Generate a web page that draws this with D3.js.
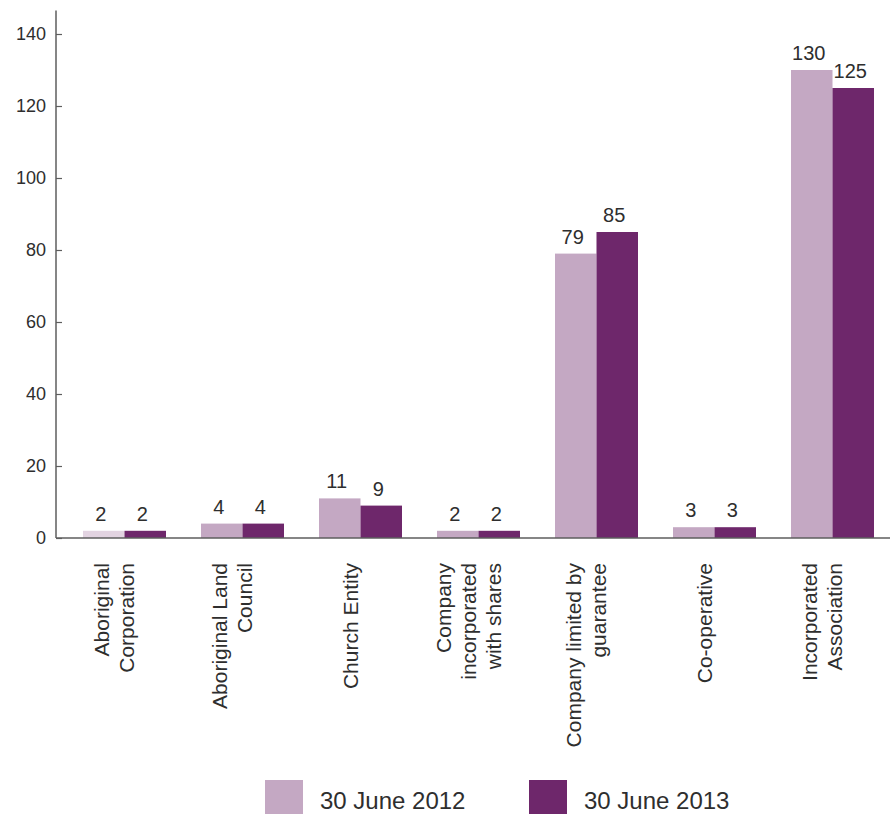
<!DOCTYPE html>
<html>
<head>
<meta charset="utf-8">
<script src="https://cdn.jsdelivr.net/npm/d3@7"></script>
<style>
  html, body { margin: 0; padding: 0; background: #ffffff; }
  svg { display: block; font-family: "Liberation Sans", Arial, Helvetica, sans-serif; }
</style>
</head>
<body>
<svg id="chart" width="890" height="814"></svg>
<script>
// Entity types and the line breaks used for their axis labels
const categories = [
  "Aboriginal Corporation",
  "Aboriginal Land Council",
  "Church Entity",
  "Company incorporated with shares",
  "Company limited by guarantee",
  "Co-operative",
  "Incorporated Association"
];
const categoryLines = [
  ["Aboriginal", "Corporation"],
  ["Aboriginal Land", "Council"],
  ["Church Entity"],
  ["Company", "incorporated", "with shares"],
  ["Company limited by", "guarantee"],
  ["Co-operative"],
  ["Incorporated", "Association"]
];
const seriesNames = ["30 June 2012", "30 June 2013"];
const values2012 = [2, 4, 11, 2, 79, 3, 130];
const values2013 = [2, 4, 9, 2, 85, 3, 125];
const yTicks = [0, 20, 40, 60, 80, 100, 120, 140];

const colors = ["#c4a8c3", "#6e276b"];
const softColor = "#e2d3e1";   // first 2012 bar is shown in a paler tint
const textColor = "#2e2e2e";
const axisColor = "#5e5e5e";

const svg = d3.select("#chart");

const baseY = 538;
const y = d3.scaleLinear().domain([0, 140]).range([baseY, 34]);
const axisX = 56;
const axisTopValue = 146.5;

const x0 = d3.scaleBand()
  .domain(categories)
  .range([65.5, 891.5])
  .paddingInner(0.2966)
  .paddingOuter(0.1483);
const x1 = d3.scaleBand()
  .domain(seriesNames)
  .range([0, x0.bandwidth()])
  .padding(0);

const data = categories.map((c, i) => ({
  category: c,
  lines: categoryLines[i],
  vals: [
    { series: seriesNames[0], value: values2012[i], idx: 0 },
    { series: seriesNames[1], value: values2013[i], idx: 1 }
  ]
}));

// Bars
const groups = svg.append("g").selectAll("g")
  .data(data).join("g")
  .attr("transform", d => `translate(${x0(d.category)},0)`);

groups.selectAll("rect")
  .data((d, ci) => d.vals.map(v => ({ ...v, ci })))
  .join("rect")
  .attr("x", d => x1(d.series))
  .attr("width", x1.bandwidth())
  .attr("y", d => y(d.value))
  .attr("height", d => y(0) - y(d.value))
  .attr("fill", d => (d.ci === 0 && d.idx === 0) ? softColor : colors[d.idx]);

// Value labels
groups.selectAll("text.val")
  .data(d => d.vals)
  .join("text")
  .attr("class", "val")
  .attr("x", d => x1(d.series) + x1.bandwidth() / 2 - 3)
  .attr("y", d => y(d.value) - 10)
  .attr("text-anchor", "middle")
  .attr("font-size", 20)
  .attr("fill", textColor)
  .text(d => d.value);

// Y axis with inward ticks
const yAxis = d3.axisRight(y).tickValues(yTicks).tickSize(6).tickFormat(d3.format("d"));
const gy = svg.append("g").attr("transform", `translate(${axisX},0)`).call(yAxis);
gy.select(".domain").remove();
gy.selectAll(".tick line").attr("stroke", axisColor).attr("stroke-width", 1.2);
gy.selectAll(".tick text")
  .attr("x", -10)
  .attr("text-anchor", "end")
  .attr("font-size", 18)
  .attr("font-family", "Liberation Sans, Arial, sans-serif")
  .attr("fill", textColor);
gy.append("line")
  .attr("x1", 0).attr("x2", 0)
  .attr("y1", y(0)).attr("y2", y(axisTopValue))
  .attr("stroke", axisColor).attr("stroke-width", 1.5);

// Baseline
svg.append("line")
  .attr("x1", axisX).attr("x2", 890)
  .attr("y1", y(0)).attr("y2", y(0))
  .attr("stroke", axisColor).attr("stroke-width", 1.5);

// Rotated category labels
const lineGap = 25;
const labels = svg.append("g").selectAll("g")
  .data(data).join("g")
  .attr("transform", d => `translate(${x0(d.category) + x0.bandwidth() / 2 - 10},563) rotate(-90)`);
labels.each(function (d) {
  const n = d.lines.length;
  d3.select(this).selectAll("text")
    .data(d.lines).join("text")
    .attr("x", 0)
    .attr("y", (t, i) => (i - (n - 1) / 2) * lineGap + 7)
    .attr("text-anchor", "end")
    .attr("font-size", 21)
    .attr("fill", textColor)
    .text(t => t);
});

// Legend
const legendX = [265, 529];
const legend = svg.append("g").selectAll("g")
  .data(seriesNames).join("g")
  .attr("transform", (d, i) => `translate(${legendX[i]},780)`);
legend.append("rect")
  .attr("width", 38).attr("height", 38)
  .attr("fill", (d, i) => colors[i]);
legend.append("text")
  .attr("x", 55).attr("y", 29)
  .attr("font-size", 24)
  .attr("fill", textColor)
  .text(d => d);
</script>
</body>
</html>
